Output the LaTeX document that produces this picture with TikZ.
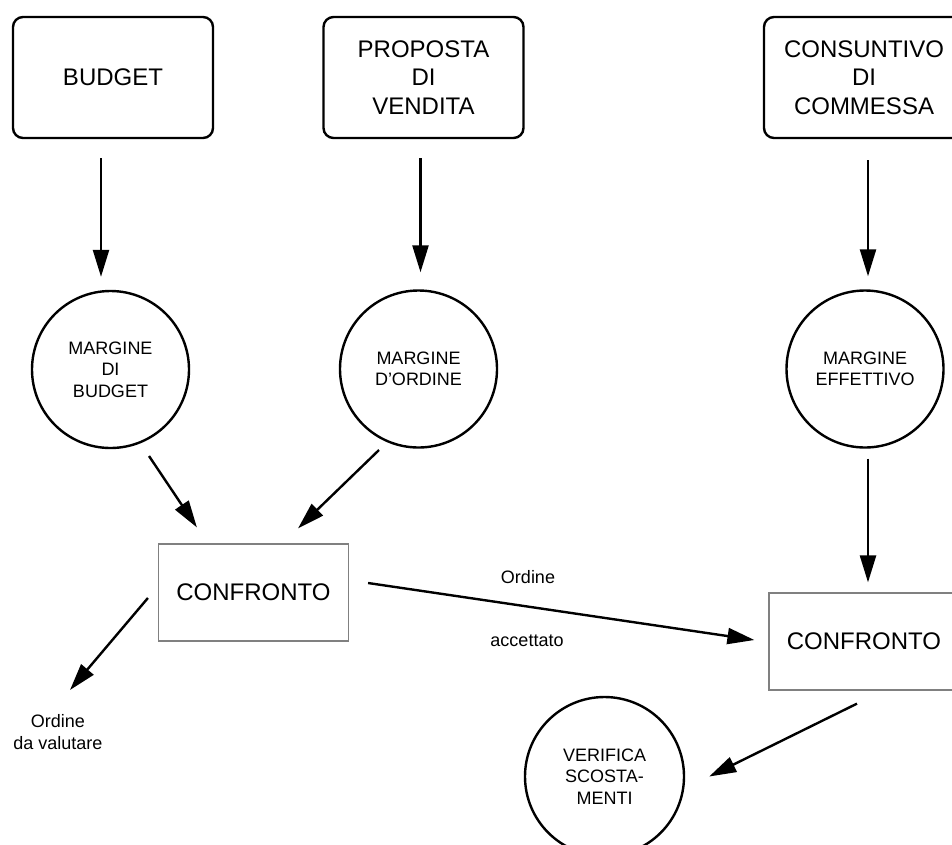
\documentclass[tikz,border=0pt]{standalone}
\usepackage{fontspec}
\setmainfont{Liberation Sans}
\usetikzlibrary{arrows.meta}

\begin{document}
\begin{tikzpicture}[x=1pt, y=-1pt,
  source/.style={draw, line width=2.4pt, rounded corners=10pt, minimum width=200pt,
    minimum height=121pt, align=center, font=\fontsize{24}{28.5}\selectfont},
  margin/.style={draw, circle, line width=2.4pt, minimum size=157pt, align=center,
    font=\fontsize{18}{21.5}\selectfont},
  cmp/.style={draw=gray, line width=1.2pt, minimum width=190pt, minimum height=97pt,
    font=\fontsize{24}{28.5}\selectfont},
  lbl/.style={align=center, font=\fontsize{18}{21.5}\selectfont},
  flow/.style={line width=2.4pt, -{Triangle[length=27pt, width=16pt]}}]
  \useasboundingbox (0,0) rectangle (952,844);

  % sorgenti
  \node[source] (budget)     at (113,77.5) {BUDGET};
  \node[source] (proposta)   at (423.5,77.5) {PROPOSTA\\DI\\VENDITA};
  \node[source] (consuntivo) at (864,77.5) {CONSUNTIVO\\DI\\COMMESSA};

  % margini
  \node[margin] (mbudget)    at (110.5,369.5) {MARGINE\\DI\\BUDGET};
  \node[margin] (mordine)    at (418.5,369) {MARGINE\\D'ORDINE};
  \node[margin] (meffettivo) at (865,369) {MARGINE\\EFFETTIVO};

  % confronti
  \node[cmp] (conf1) at (253.5,592.5) {CONFRONTO};
  \node[cmp] (conf2) at (864,641.5) {CONFRONTO};
  \node[margin, minimum size=159pt] (verifica) at (604.5,776.5) {VERIFICA\\SCOSTA-\\MENTI};

  \node[lbl] (valutare) at (58,732) {Ordine\\da valutare};
  \node[lbl] (ordine)    at (528,577) {Ordine};
  \node[lbl] (accettato) at (527,641) {accettato};

  \draw[flow, shorten <=19pt, shorten >=13pt] ([xshift=-12pt]budget.south) -- ([xshift=-9.5pt]mbudget.north);
  \draw[flow, shorten <=19pt, shorten >=17pt] ([xshift=-3pt]proposta.south) -- ([xshift=2pt]mordine.north);
  \draw[flow, shorten <=21pt, shorten >=13pt] ([xshift=4pt]consuntivo.south) -- ([xshift=3pt]meffettivo.north);

  \draw[flow] ([shift={(38.5,86.5)}]mbudget.center) -- ([shift={(39,-16)}]conf1.north west);
  \draw[flow] ([shift={(-39.5,81)}]mordine.center) -- ([shift={(44.5,-15)}]conf1.north);
  \draw[flow] ([shift={(-10,5.5)}]conf1.west) -- ([shift={(12,-42)}]valutare.center);
  \draw[flow] ([shift={(19,-9.5)}]conf1.east) -- ([shift={(-14,-1.5)}]conf2.west);
  \draw[flow, shorten <=10pt, shorten >=10pt] ([xshift=3pt]meffettivo.south) -- ([xshift=4pt]conf2.north);
  \draw[flow] ([shift={(-7,13)}]conf2.south) -- ([xshift=24pt]verifica.east);
\end{tikzpicture}
\end{document}
